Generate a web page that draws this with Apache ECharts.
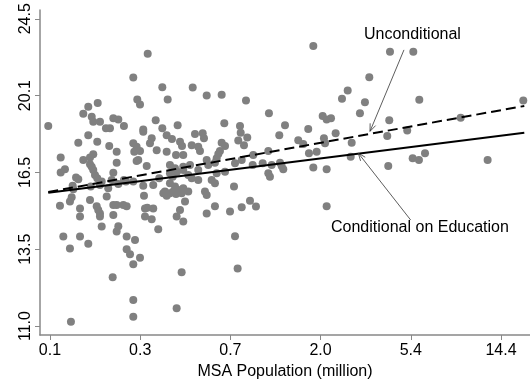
<!DOCTYPE html>
<html>
<head>
<meta charset="utf-8">
<script src="https://cdn.jsdelivr.net/npm/echarts@6/dist/echarts.min.js"></script>
<style>
  html, body { margin: 0; padding: 0; background: #fff; }
  #chart { width: 530px; height: 380px; }
</style>
</head>
<body>
<div id="chart"></div>
<script>
// Log MSA population (ln of millions) for each metro area
const lnPop = [
  -2.322, -1.226, -1.385, -1.065, -1.341, -1.311, -1.006, -1.777, -1.881, -1.936,
  -1.843, -1.826, -1.752, -1.605, -1.550, -1.488, -1.138, -1.275, -1.065, -0.896,
  -1.686, -1.642, -1.881, -1.991, -1.782, -1.650, -1.275, -1.182, -1.201, -1.017,
  -0.959, -1.385, -1.348, -1.374, -1.311, -1.127, -1.017, -1.568, -1.826, -1.862,
  -1.936, -2.185, -1.330, -1.348, -1.568, -0.914, -1.237, -1.862, -1.843, -1.826,
  -2.138, -2.185, -2.016, -1.991, -1.807, -1.782, -1.605, -1.623, -1.488, -1.465,
  -1.385, -1.099, -0.981, -0.951, -2.053, -2.046, -1.854, -1.733, -1.661, -1.550,
  -1.752, -1.275, -1.165, -1.054, -1.036, -1.017, -0.981, -0.944, -0.914, -2.064,
  -2.083, -1.862, -1.678, -1.267, -2.193, -1.972, -1.972, -1.788, -1.771, -1.752,
  -1.605, -1.568, -1.495, -1.458, -1.256, -1.231, -1.165, -1.752, -1.605, -1.256,
  -1.182, -0.907, -1.733, -1.550, -1.568, -1.110, -2.156, -1.972, -1.881, -1.458,
  -1.366, -2.083, -1.458, -1.421, -1.311, -1.385, -1.612, -0.852, -1.385, -1.385,
  -0.907, -2.072,
  0.599, -0.730, -0.576, -0.411, -0.143, -0.382, -0.209, 0.110, 0.287, 0.543,
  0.702, 0.746, 0.794, 0.915, 0.978, -0.201, -0.129, -0.705, -0.620, -0.606,
  -0.870, -0.848, -0.741, -0.669, -0.650, -0.411, -0.374, -0.430, -0.448, -0.466,
  -0.228, -0.165, 0.224, 0.433, 0.488, 0.716, 0.728, 0.845, -0.834, -0.576,
  -0.485, -0.559, -0.981, -0.925, -0.834, -0.760, -0.264, -0.190, -0.063, -0.069,
  0.103, 0.041, 0.140, 0.232, 0.551, 0.636, 0.599, 0.746, -0.903, -0.834,
  -0.779, -0.669, -0.741, -0.669, -0.466, -0.374, -0.521, -0.485, -0.275, 0.103,
  0.121, 0.250, 0.268, -0.981, -0.925, -0.889, -0.834, -0.852, -0.779, -0.595,
  -0.576, -0.815, -0.870, -0.834, -0.576, -0.485, -0.319, -0.190, -0.099, -0.033,
  0.746, -0.264, -0.235,
  1.444, 1.701, 1.216, 1.168, 1.113, 1.767, 1.436, 2.223, 2.913, 1.022,
  1.414, 1.634, 1.011, 1.425, 1.694, 1.763, 1.830, 2.520
];

// Log hourly wage for the same metro areas
const lnWage = [
  2.921, 3.109, 3.047, 3.022, 2.990, 2.977, 2.990, 2.981, 2.971, 2.953,
  2.945, 2.932, 2.932, 2.941, 2.938, 2.921, 2.936, 2.912, 2.915, 2.923,
  2.915, 2.915, 2.897, 2.877, 2.880, 2.869, 2.906, 2.889, 2.876, 2.897,
  2.887, 2.876, 2.867, 2.854, 2.856, 2.858, 2.854, 2.854, 2.847, 2.839,
  2.832, 2.839, 2.832, 2.830, 2.825, 2.845, 2.817, 2.821, 2.815, 2.806,
  2.808, 2.800, 2.787, 2.782, 2.793, 2.785, 2.799, 2.780, 2.780, 2.776,
  2.776, 2.785, 2.798, 2.789, 2.765, 2.756, 2.763, 2.776, 2.759, 2.770,
  2.767, 2.765, 2.767, 2.746, 2.750, 2.739, 2.746, 2.750, 2.744, 2.735,
  2.724, 2.728, 2.737, 2.739, 2.713, 2.706, 2.685, 2.712, 2.702, 2.693,
  2.715, 2.715, 2.715, 2.712, 2.706, 2.708, 2.706, 2.685, 2.689, 2.685,
  2.678, 2.685, 2.659, 2.660, 2.646, 2.652, 2.633, 2.633, 2.614, 2.633,
  2.624, 2.602, 2.600, 2.587, 2.578, 2.561, 2.527, 2.540, 2.468, 2.424,
  2.446, 2.411,
  3.129, 3.021, 3.000, 3.002, 2.987, 2.928, 2.921, 2.954, 2.923, 2.913,
  2.947, 2.938, 2.941, 2.992, 3.013, 2.903, 2.891, 2.900, 2.902, 2.889,
  2.880, 2.869, 2.871, 2.867, 2.856, 2.877, 2.869, 2.856, 2.848, 2.837,
  2.883, 2.871, 2.897, 2.884, 2.874, 2.889, 2.876, 2.902, 2.845, 2.832,
  2.825, 2.819, 2.819, 2.811, 2.815, 2.819, 2.824, 2.832, 2.845, 2.819,
  2.856, 2.824, 2.819, 2.825, 2.850, 2.854, 2.813, 2.808, 2.802, 2.806,
  2.793, 2.806, 2.785, 2.780, 2.798, 2.802, 2.780, 2.772, 2.763, 2.798,
  2.789, 2.817, 2.808, 2.772, 2.763, 2.754, 2.759, 2.746, 2.750, 2.750,
  2.741, 2.724, 2.702, 2.672, 2.693, 2.712, 2.698, 2.709, 2.726, 2.711,
  2.712, 2.634, 2.550,
  3.114, 3.114, 3.048, 2.983, 2.954, 2.989, 2.936, 2.942, 2.987, 2.877,
  2.895, 2.909, 2.841, 2.817, 2.837, 2.832, 2.850, 2.832
];

// Fitted lines: [ln population, ln wage] at both ends of the sample
const unconditionalFit = [[-2.322, 2.749], [2.924, 2.973]];
const conditionalFit = [[-2.322, 2.747], [2.924, 2.903]];

// Axis ticks (log positions) and their printed labels
const xTickPos = [-2.303, -1.309, -0.315, 0.679, 1.673, 2.667];
const xTickLabels = ['0.1', '0.3', '0.7', '2.0', '5.4', '14.4'];
const yTickPos = [2.4, 2.6, 2.8, 3.0, 3.2];
const yTickLabels = ['11.0', '13.5', '16.5', '20.1', '24.5'];

// Callout notes: text anchor, arrow tail and arrow head in data units
const noteTexts = ['Unconditional', 'Conditional on Education'];
const noteTextPos = [[1.157, 3.160], [0.794, 2.656]];
const noteArrows = [
  [1.598, 3.119, 1.224, 2.907],
  [1.672, 2.676, 1.095, 2.850]
];

const FONT = '"Liberation Sans", Arial, Helvetica, sans-serif';
const points = lnPop.map((x, i) => [x, lnWage[i]]);

function labelFor(positions, labels) {
  return function (v) {
    for (let i = 0; i < positions.length; i++) {
      if (Math.abs(positions[i] - v) < 1e-6) return labels[i];
    }
    return '';
  };
}

const chart = echarts.init(document.getElementById('chart'), null, { renderer: 'canvas' });

chart.setOption({
  animation: false,
  backgroundColor: '#fff',
  grid: { left: 40, right: 0, top: 10, bottom: 45, containLabel: false, outerBoundsMode: 'none' },
  xAxis: {
    type: 'value',
    min: -2.413,
    max: 2.987,
    name: 'MSA Population (million)',
    nameLocation: 'middle',
    nameGap: 26,
    nameTextStyle: { fontFamily: FONT, fontSize: 16, color: '#000' },
    axisLine: { show: true, onZero: false, lineStyle: { color: '#888', width: 1.5 } },
    axisTick: { show: true, length: 5, customValues: xTickPos, lineStyle: { color: '#888', width: 1 } },
    axisLabel: {
      customValues: xTickPos,
      formatter: labelFor(xTickPos, xTickLabels),
      fontFamily: FONT, fontSize: 16, color: '#000', margin: 8
    },
    splitLine: { show: false }
  },
  yAxis: {
    type: 'value',
    min: 2.3766,
    max: 3.2229,
    axisLine: { show: true, onZero: false, lineStyle: { color: '#888', width: 1.5 } },
    axisTick: { show: true, length: 5, customValues: yTickPos, lineStyle: { color: '#888', width: 1 } },
    axisLabel: {
      customValues: yTickPos,
      formatter: labelFor(yTickPos, yTickLabels),
      rotate: 90,
      fontFamily: FONT, fontSize: 16, color: '#000', margin: 6
    },
    splitLine: { show: false }
  },
  series: [
    {
      type: 'scatter',
      data: points,
      symbol: 'circle',
      symbolSize: 8,
      itemStyle: { color: '#808080', opacity: 1 },
      z: 2
    },
    {
      type: 'line',
      data: unconditionalFit,
      showSymbol: false,
      lineStyle: { color: '#000', width: 2, type: [10, 5] },
      z: 3
    },
    {
      type: 'line',
      data: conditionalFit,
      showSymbol: false,
      lineStyle: { color: '#000', width: 2, type: 'solid' },
      z: 3
    },
    {
      // thin arrows from each note to its line
      type: 'custom',
      data: noteArrows,
      clip: false,
      z: 4,
      renderItem: function (params, api) {
        const p1 = api.coord([api.value(0), api.value(1)]);
        const p2 = api.coord([api.value(2), api.value(3)]);
        const ang = Math.atan2(p2[1] - p1[1], p2[0] - p1[0]);
        const L = 8, a = 0.38;
        const h1 = [p2[0] - L * Math.cos(ang - a), p2[1] - L * Math.sin(ang - a)];
        const h2 = [p2[0] - L * Math.cos(ang + a), p2[1] - L * Math.sin(ang + a)];
        const st = { stroke: '#333', lineWidth: 0.8, fill: null };
        return {
          type: 'group',
          children: [
            { type: 'line', shape: { x1: p1[0], y1: p1[1], x2: p2[0], y2: p2[1] }, style: st },
            { type: 'polyline', shape: { points: [h1, p2, h2] }, style: st }
          ]
        };
      }
    },
    {
      // note texts
      type: 'custom',
      data: noteTextPos.map((p, i) => [p[0], p[1], i]),
      clip: false,
      z: 4,
      renderItem: function (params, api) {
        const p = api.coord([api.value(0), api.value(1)]);
        return {
          type: 'text',
          x: p[0],
          y: p[1],
          style: {
            text: noteTexts[api.value(2)],
            fill: '#000',
            font: '16px ' + FONT,
            align: 'left',
            verticalAlign: 'middle'
          }
        };
      }
    }
  ]
});
</script>
</body>
</html>
